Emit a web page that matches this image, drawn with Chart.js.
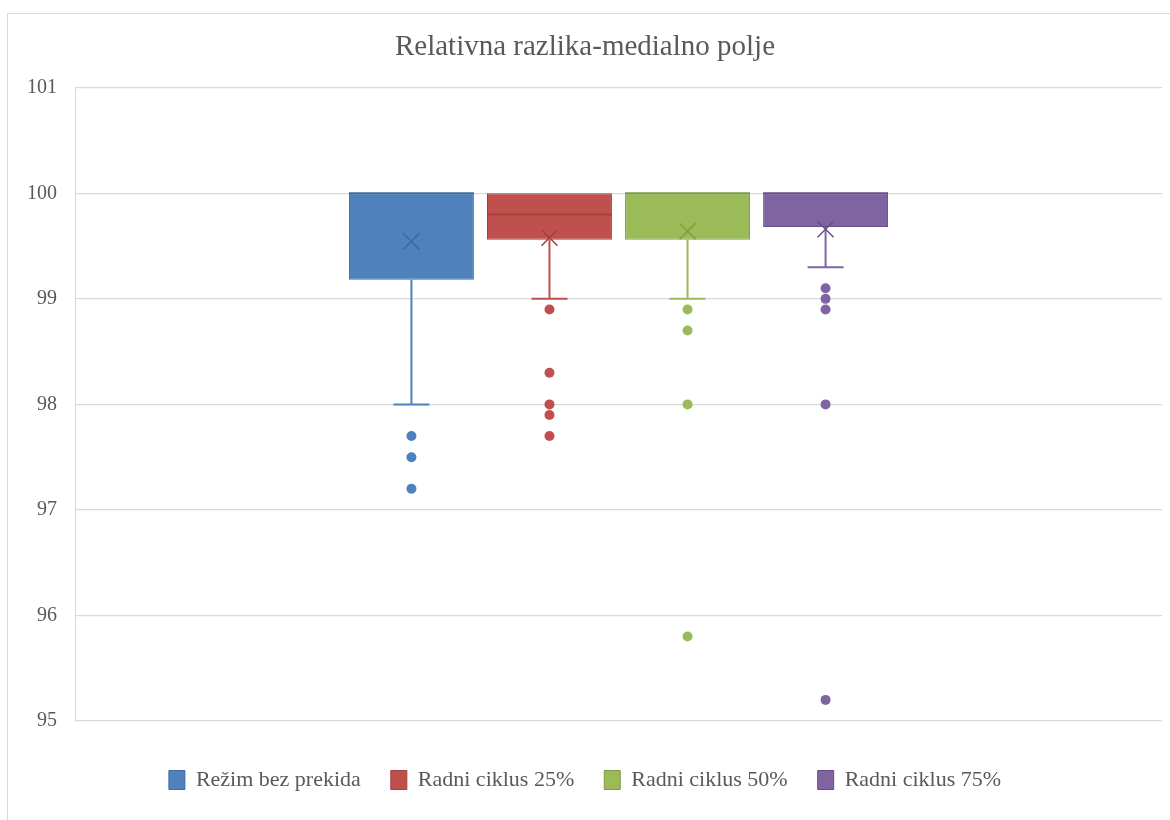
<!DOCTYPE html>
<html>
<head>
<meta charset="utf-8">
<script src="https://cdn.jsdelivr.net/npm/chart.js@4.4.1/dist/chart.umd.min.js"></script>
<style>
    html, body { margin: 0; padding: 0; background: #fff; }
    #frame {
        position: absolute; left: 7px; top: 13px; width: 1170px; height: 820px;
        border-left: 1px solid #d9d9d9; border-top: 1px solid #d9d9d9;
    }
    #boxChart { position: absolute; left: 0; top: 0; }
</style>
</head>
<body>
<div id="frame"></div>
<canvas id="boxChart" width="1170" height="820"></canvas>
<script>
const chartTitle = 'Relativna razlika-medialno polje';
const seriesNames = ['Režim bez prekida', 'Radni ciklus 25%', 'Radni ciklus 50%', 'Radni ciklus 75%'];
const yTicks = [95, 96, 97, 98, 99, 100, 101];

// box plot values per series
const q1Values = [99.18, 99.56, 99.56, 99.68];
const q3Values = [100, 100, 100, 100];
const medianValues = [100, 99.8, 100, 100];
const meanValues = [99.545, 99.58, 99.64, 99.66];
const whiskerLow = [98.0, 99.0, 99.0, 99.3];
const whiskerHigh = [100, 100, 100, 100];
const outliers = [
    [97.7, 97.5, 97.2],
    [98.9, 98.3, 98.0, 97.9, 97.7],
    [98.9, 98.7, 98.0, 95.8],
    [99.1, 99.0, 98.9, 98.0, 95.2]
];

const fillColors = ['#4f81bd', '#c0504d', '#9bbb59', '#8064a2'];
const lineColors = ['#3e6c9f', '#a33f3c', '#7f9c45', '#674f86'];

const boxPlotExtras = {
    id: 'boxPlotExtras',
    afterDatasetsDraw(chart) {
        const ctx = chart.ctx;
        const y = chart.scales.y;
        chart.data.datasets.forEach((ds, i) => {
            const meta = chart.getDatasetMeta(i);
            if (meta.hidden) return;
            const bar = meta.data[0];
            const cx = bar.x;
            const half = bar.width / 2;
            ctx.save();
            ctx.strokeStyle = fillColors[i];
            ctx.lineWidth = 2;
            // lower whisker
            const yQ1 = y.getPixelForValue(q1Values[i]);
            const yLow = y.getPixelForValue(whiskerLow[i]);
            ctx.beginPath();
            ctx.moveTo(cx, yQ1);
            ctx.lineTo(cx, yLow);
            ctx.moveTo(cx - 18, yLow);
            ctx.lineTo(cx + 18, yLow);
            // upper whisker
            const yQ3 = y.getPixelForValue(q3Values[i]);
            const yHigh = y.getPixelForValue(whiskerHigh[i]);
            if (yHigh < yQ3 - 1) {
                ctx.moveTo(cx, yQ3);
                ctx.lineTo(cx, yHigh);
                ctx.moveTo(cx - 18, yHigh);
                ctx.lineTo(cx + 18, yHigh);
            }
            ctx.stroke();
            // median
            ctx.strokeStyle = lineColors[i];
            const yMed = y.getPixelForValue(medianValues[i]);
            ctx.beginPath();
            ctx.moveTo(cx - half, yMed);
            ctx.lineTo(cx + half, yMed);
            ctx.stroke();
            // mean marker
            const yMean = y.getPixelForValue(meanValues[i]);
            ctx.lineWidth = 1.5;
            ctx.beginPath();
            ctx.moveTo(cx - 8, yMean - 8);
            ctx.lineTo(cx + 8, yMean + 8);
            ctx.moveTo(cx + 8, yMean - 8);
            ctx.lineTo(cx - 8, yMean + 8);
            ctx.stroke();
            // outliers
            ctx.fillStyle = fillColors[i];
            outliers[i].forEach(v => {
                ctx.beginPath();
                ctx.arc(cx, y.getPixelForValue(v), 5, 0, Math.PI * 2);
                ctx.fill();
            });
            ctx.restore();
        });
    }
};

const serif = "'Liberation Serif', 'Times New Roman', serif";

new Chart(document.getElementById('boxChart'), {
    type: 'bar',
    data: {
        labels: [''],
        datasets: seriesNames.map((name, i) => ({
            label: name,
            data: [[q1Values[i], q3Values[i]]],
            backgroundColor: fillColors[i],
            borderColor: lineColors[i],
            borderWidth: 1,
            borderSkipped: false,
            categoryPercentage: 0.508,
            barPercentage: 0.905
        }))
    },
    options: {
        responsive: false,
        animation: false,
        layout: { padding: { left: 8, right: 8, top: 0, bottom: 19 } },
        plugins: {
            title: {
                display: true,
                text: chartTitle,
                color: '#595959',
                font: { family: serif, size: 29, weight: 'normal' },
                padding: { top: 30, bottom: 23 }
            },
            legend: {
                position: 'bottom',
                labels: {
                    color: '#595959',
                    font: { family: serif, size: 22 },
                    boxWidth: 16,
                    boxHeight: 19,
                    padding: 30
                }
            },
            tooltip: { enabled: false }
        },
        scales: {
            x: {
                grid: { display: false },
                ticks: { display: false },
                border: { display: false },
                afterFit: (scale) => { scale.height = 18; }
            },
            y: {
                min: 95,
                max: 101,
                afterBuildTicks: (scale) => { scale.ticks = yTicks.map(v => ({ value: v })); },
                afterFit: (scale) => { scale.width = 67; },
                grid: { color: '#d9d9d9', lineWidth: 1.3, drawTicks: false },
                border: { display: true, color: '#d9d9d9' },
                ticks: {
                    color: '#595959',
                    font: { family: serif, size: 20 },
                    padding: 18
                }
            }
        }
    },
    plugins: [boxPlotExtras]
});
</script>
</body>
</html>
